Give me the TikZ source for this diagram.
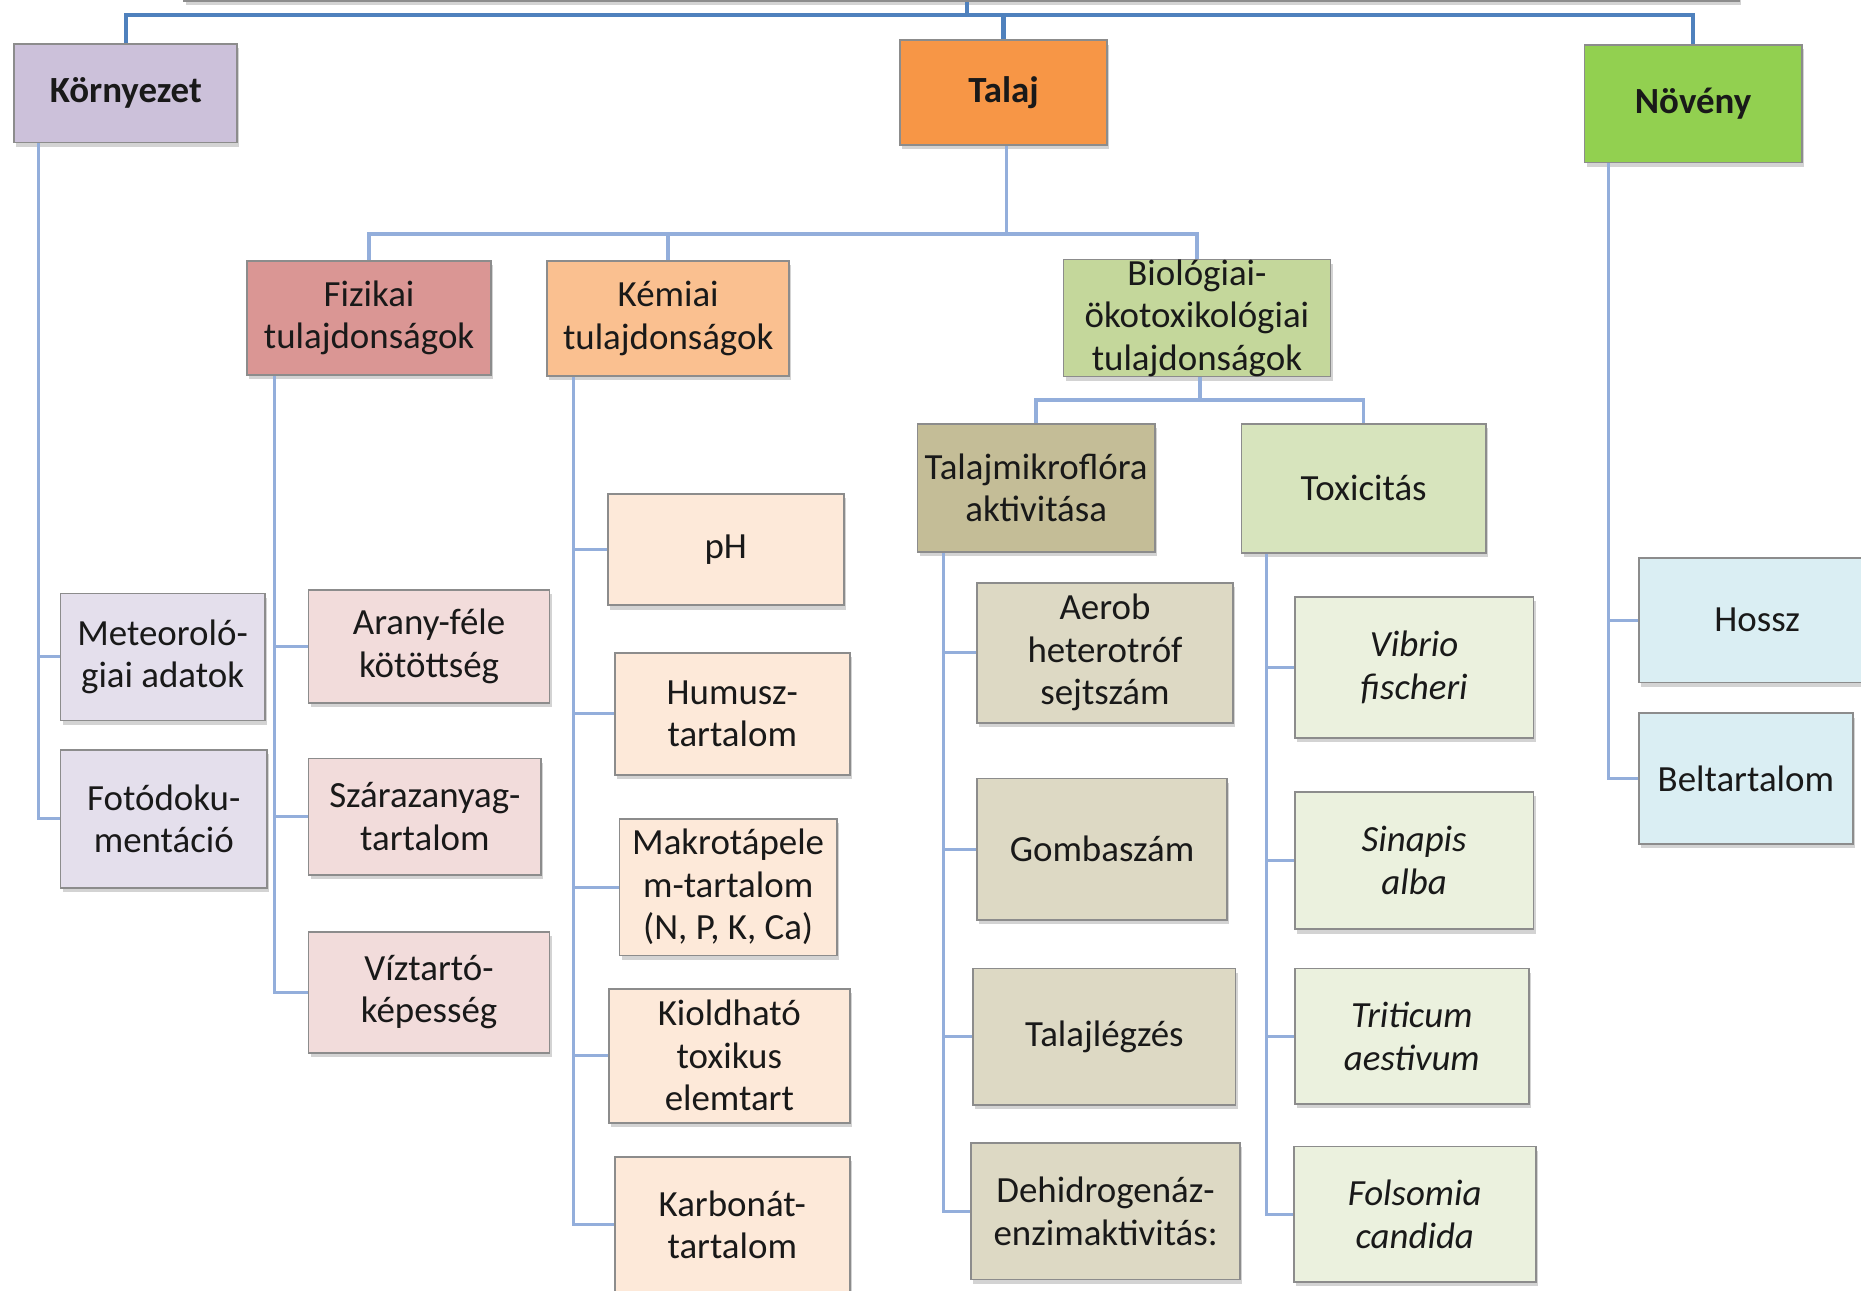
\documentclass[tikz,border=0pt]{standalone}
\usepackage{fontspec}
\setmainfont{Carlito}
\usetikzlibrary{shadows}

\newcommand{\betu}{\fontsize{10.5}{12.1}\selectfont}

\definecolor{kekfo}{HTML}{4F81BD}
\definecolor{kekag}{HTML}{93AEDB}
\definecolor{kornyC}{HTML}{CCC1DA}
\definecolor{talajC}{HTML}{F79646}
\definecolor{novenyC}{HTML}{92D050}
\definecolor{fizC}{HTML}{DA9694}
\definecolor{kemC}{HTML}{FAC090}
\definecolor{bioC}{HTML}{C4D79B}
\definecolor{mikroC}{HTML}{C4BD97}
\definecolor{toxC}{HTML}{D7E4BD}
\definecolor{kornyV}{HTML}{E4DFEC}
\definecolor{fizV}{HTML}{F2DCDB}
\definecolor{kemV}{HTML}{FDE9D9}
\definecolor{mikroV}{HTML}{DDD9C4}
\definecolor{toxV}{HTML}{EBF1DE}
\definecolor{novenyV}{HTML}{DAEEF3}

\begin{document}
\begin{tikzpicture}[x=0.011869cm, y=-0.011869cm,
        doboz/.style={rectangle, draw=black!45, line width=0.5pt, align=center,
            inner sep=1pt, font=\betu, text=black!90,
            drop shadow={shadow xshift=0.6pt, shadow yshift=-1.2pt, opacity=0.35}},
        meret/.style 2 args={minimum width=#1*0.011869cm, minimum height=#2*0.011869cm},
        vastag/.style={font=\betu\bfseries},
        dolt/.style={font=\betu\itshape},
        fo/.style={draw=kekfo, line width=1.15pt},
        sin/.style={draw=kekag, line width=1pt},
        ag/.style={draw=kekag, line width=0.85pt}
    ]
        \useasboundingbox (0,0) rectangle (1568,1087);

        % Felső szint
        \node [doboz, fill=white, meret={1310}{61}] (gyoker) at (810,-29.5) {};
        \node [doboz, vastag, fill=kornyC, meret={188}{83}] (korny) at (106,78.5) {Környezet};
        \node [doboz, vastag, fill=talajC, meret={175}{88}] (talaj) at (845.5,78) {Talaj};
        \node [doboz, vastag, fill=novenyC, meret={183}{99}] (noveny) at (1426.5,87.5) {Növény};

        % Környezet
        \node [doboz, fill=kornyV, meret={172}{107}] (meteo) at (137,553.5) {Meteoroló-\\giai adatok};
        \node [doboz, fill=kornyV, meret={174}{116}] (foto) at (138,690) {Fotódoku-\\mentáció};

        % Talaj
        \node [doboz, fill=fizC, meret={206}{96}] (fiz) at (311,268) {Fizikai\\tulajdonságok};
        \node [doboz, fill=kemC, meret={204}{97}] (kem) at (563,268.5) {Kémiai\\tulajdonságok};
        \node [doboz, fill=bioC, meret={225}{96}, inner sep=0pt] (bio) at (1008.5,268) {Biológiai-\\ökotoxikológiai\\tulajdonságok};

        \node [doboz, fill=fizV, meret={203}{95}] (arany) at (361.5,544.5) {Arany-féle\\kötöttség};
        \node [doboz, fill=fizV, meret={196}{98}] (szaraz) at (358,688) {Szárazanyag-\\tartalom};
        \node [doboz, fill=fizV, meret={203}{102}] (viz) at (361.5,836) {Víztartó-\\képesség};

        \node [doboz, fill=kemV, meret={199}{94}] (ph) at (611.5,463) {pH};
        \node [doboz, fill=kemV, meret={198}{103}] (humusz) at (617,601.5) {Humusz-\\tartalom};
        \node [doboz, fill=kemV, meret={183}{115}] (makro) at (613.5,747.5) {Makrotápele\\m-tartalom\\(N, P, K, Ca)};
        \node [doboz, fill=kemV, meret={203}{113}] (kiold) at (614.5,889.5) {Kioldható\\toxikus\\elemtart};
        \node [doboz, fill=kemV, meret={198}{114}] (karb) at (617,1032) {Karbonát-\\tartalom};

        \node [doboz, fill=mikroC, meret={200}{108}] (mikro) at (873,411) {Talajmikroflóra\\aktivitása};
        \node [doboz, fill=toxC, meret={206}{109}] (tox) at (1149,411.5) {Toxicitás};

        \node [doboz, fill=mikroV, meret={216}{118}] (aerob) at (931,550) {Aerob\\heterotróf\\sejtszám};
        \node [doboz, fill=mikroV, meret={211}{119}] (gomba) at (928.5,715.5) {Gombaszám};
        \node [doboz, fill=mikroV, meret={221}{115}] (legzes) at (930.5,873.5) {Talajlégzés};
        \node [doboz, fill=mikroV, meret={227}{115}] (dehidro) at (931.5,1020.5) {Dehidrogenáz-\\enzimaktivitás:};

        \node [doboz, dolt, fill=toxV, meret={201}{119}] (vibrio) at (1191.5,562.5) {Vibrio\\fischeri};
        \node [doboz, dolt, fill=toxV, meret={201}{116}] (sinapis) at (1191.5,725) {Sinapis\\alba};
        \node [doboz, dolt, fill=toxV, meret={197}{114}] (triticum) at (1189.5,873) {Triticum\\aestivum};
        \node [doboz, dolt, fill=toxV, meret={204}{114}] (folsomia) at (1192,1023) {Folsomia\\candida};

        % Növény
        \node [doboz, fill=novenyV, meret={199}{105}] (hossz) at (1480.5,522.5) {Hossz};
        \node [doboz, fill=novenyV, meret={180}{110}] (beltart) at (1471,656) {Beltartalom};

        % Összekötések
        \coordinate (sin1) at (815,13);
        \draw[fo] (gyoker.south -| sin1) -- (sin1);
        \draw[fo] (korny.north) |- (sin1) -| (noveny.north);
        \draw[fo] (sin1) -| (talaj.north);

        \coordinate (sin2) at (848,197);
        \draw[sin] (talaj.south -| sin2) -- (sin2);
        \draw[sin] (fiz.north) |- (sin2) -| (bio.north);
        \draw[sin] (kem.north) -- (kem.north |- sin2);

        \coordinate (sin3) at (1011,337);
        \draw[sin] (bio.south -| sin3) -- (sin3);
        \draw[sin] (mikro.north) |- (sin3) -| (tox.north);

        \draw[ag] (korny.south west) ++(21,0) |- (meteo.west);
        \draw[ag] (korny.south west) ++(21,0) |- (foto.west);

        \draw[ag] (fiz.south west) ++(24,0) |- (arany.west);
        \draw[ag] (fiz.south west) ++(24,0) |- (szaraz.west);
        \draw[ag] (fiz.south west) ++(24,0) |- (viz.west);

        \draw[ag] (kem.south west) ++(23,0) |- (ph.west);
        \draw[ag] (kem.south west) ++(23,0) |- (humusz.west);
        \draw[ag] (kem.south west) ++(23,0) |- (makro.west);
        \draw[ag] (kem.south west) ++(23,0) |- (kiold.west);
        \draw[ag] (kem.south west) ++(23,0) |- (karb.west);

        \draw[ag] (mikro.south west) ++(23,0) |- (aerob.west);
        \draw[ag] (mikro.south west) ++(23,0) |- (gomba.west);
        \draw[ag] (mikro.south west) ++(23,0) |- (legzes.west);
        \draw[ag] (mikro.south west) ++(23,0) |- (dehidro.west);

        \draw[ag] (tox.south west) ++(22,0) |- (vibrio.west);
        \draw[ag] (tox.south west) ++(22,0) |- (sinapis.west);
        \draw[ag] (tox.south west) ++(22,0) |- (triticum.west);
        \draw[ag] (tox.south west) ++(22,0) |- (folsomia.west);

        \draw[ag] (noveny.south west) ++(21,0) |- (hossz.west);
        \draw[ag] (noveny.south west) ++(21,0) |- (beltart.west);
    \end{tikzpicture}
\end{document}
